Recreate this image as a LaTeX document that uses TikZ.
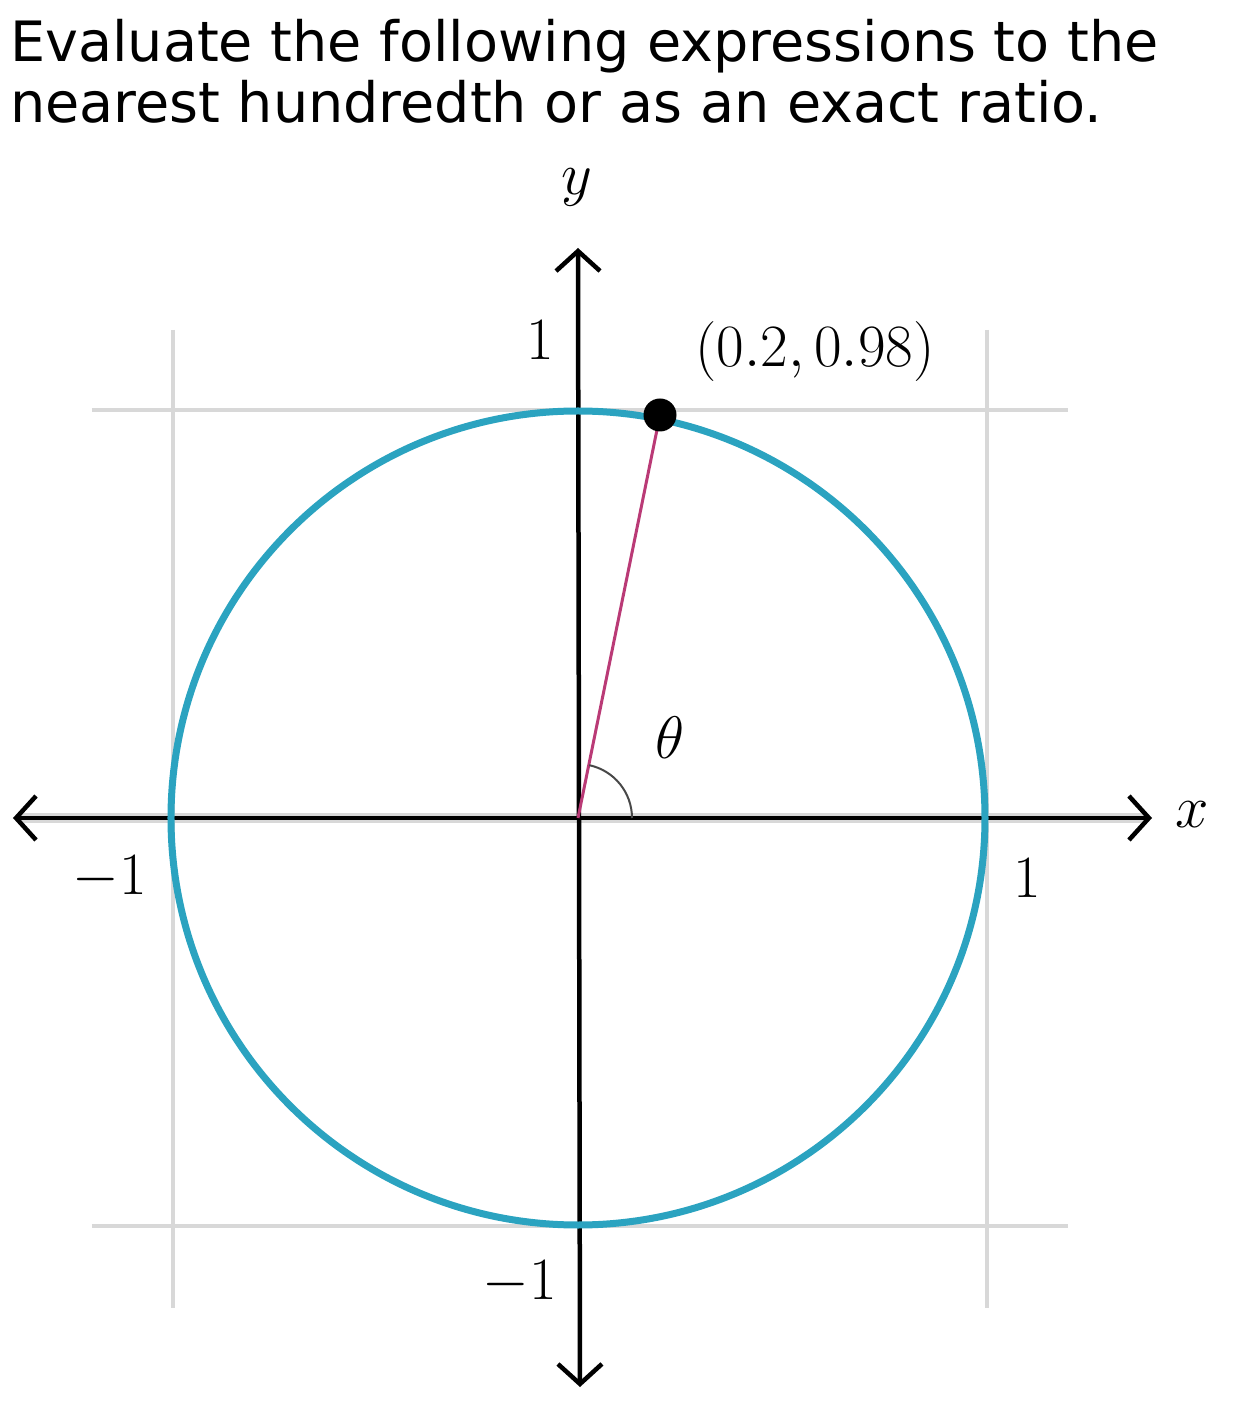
\documentclass[tikz,border=0pt]{standalone}
\usepackage{fontspec}
\usepackage{amsmath}
\usepackage{xcolor}
\usepackage{tikz}
\usetikzlibrary{calc,arrows.meta,positioning}
\newfontfamily\titlefont{DejaVu Sans}
\definecolor{unitTeal}{RGB}{43,163,192}
\definecolor{unitMaroon}{RGB}{186,58,118}
\definecolor{gridGray}{RGB}{216,216,216}
\definecolor{arcGray}{RGB}{72,72,72}

\begin{document}
\begin{tikzpicture}[x=1pt, y=1pt,
  mathlabel/.style={font=\fontsize{20.74}{25}\selectfont, inner sep=0pt, scale=2.893, transform shape},
  titleline/.style={font=\titlefont\fontsize{55.6}{61}\selectfont, anchor=base west, inner sep=0pt},
  gridline/.style={gridGray, line width=4pt},
  axisline/.style={black, line width=4.5pt, {Straight Barb[length=20pt,width=44pt]}-{Straight Barb[length=20pt,width=44pt]}}]
\useasboundingbox (-578,-595) rectangle (657,818);

% title
\node[titleline] (title1) at (-568,756) {Evaluate the following expressions to the};
\node[titleline] (title2) at (-568,695) {nearest hundredth or as an exact ratio.};

% grid
\draw[gridline] (-486,408)--(490,408);
\draw[gridline] (-486,-408)--(490,-408);
\draw[gridline] (-405,488)--(-405,-490);
\draw[gridline] (409,488)--(409,-490);
\draw[gridGray, line width=10pt] (-560,0)--(568,0);

% axes
\coordinate (O) at (0,0);
\coordinate (xl) at (-565,0);
\coordinate (xr) at (574,0);
\coordinate (yb) at (2,-569);
\coordinate (yt) at (0,570);
\draw[axisline] (xl)--(xr);
\draw[axisline] (yb)--(yt);

% unit circle
\draw[unitTeal, line width=7pt] (O) circle[radius=407pt];

% radius and point
\coordinate (P) at (82,403);
\draw[unitMaroon, line width=3pt] (O)--(P);
\fill[black] (P) circle[radius=16.5pt];
\draw[arcGray, line width=2pt] (54,0) arc[start angle=0, end angle=78, radius=54pt];

% labels
\node[mathlabel] (ylab) at (-1,631) {$y$};
\node[mathlabel] (xlab) at (614,3) {$x$};
\node[mathlabel] (ytop) at (-38,478) {$1$};
\node[mathlabel] (ybot) at (-58,-465) {$-1$};
\node[mathlabel] (xleft) at (-468,-60) {$-1$};
\node[mathlabel] (xright) at (449,-60) {$1$};
\node[mathlabel] (plab) at (237,466) {$(0.2, 0.98)$};
\node[mathlabel] (theta) at (92,80) {$\theta$};
\end{tikzpicture}
\end{document}
